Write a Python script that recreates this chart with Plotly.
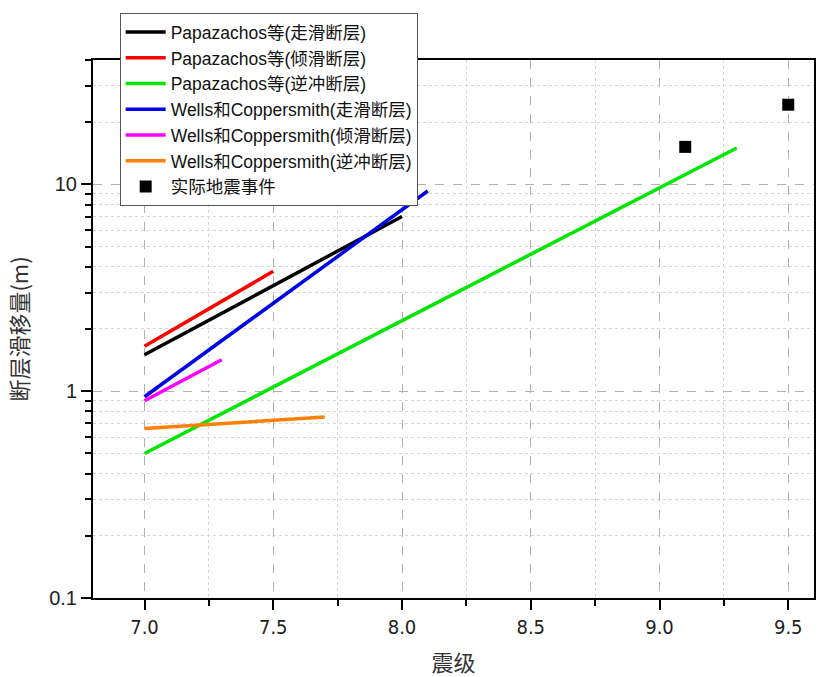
import plotly.graph_objects as go

# data
names = [
    "Papazachos等(走滑断层)",
    "Papazachos等(倾滑断层)",
    "Papazachos等(逆冲断层)",
    "Wells和Coppersmith(走滑断层)",
    "Wells和Coppersmith(倾滑断层)",
    "Wells和Coppersmith(逆冲断层)",
]
colors = ["#000000", "#ff0000", "#00e600", "#0000e6", "#ff00ff", "#ff8000"]
mag_start = [7.0, 7.0, 7.0, 7.0, 7.0, 7.0]
mag_end = [8.0, 7.5, 9.3, 8.1, 7.3, 7.7]
slip_start = [1.5, 1.65, 0.5, 0.94, 0.9, 0.66]
slip_end = [7.0, 3.8, 15.0, 9.3, 1.42, 0.75]

event_mag = [9.1, 9.5]
event_slip = [15.2, 24.3]
event_name = "实际地震事件"

x_ticks = [7.0, 7.5, 8.0, 8.5, 9.0, 9.5]
x_labels = ["7.0", "7.5", "8.0", "8.5", "9.0", "9.5"]
y_ticks = [0.1, 1, 10]
y_labels = ["0.1", "1", "10"]

fig = go.Figure()
for i in range(len(names)):
    fig.add_trace(go.Scatter(
        x=[mag_start[i], mag_end[i]], y=[slip_start[i], slip_end[i]],
        mode="lines", name=names[i],
        line=dict(color=colors[i], width=3.5),
    ))
fig.add_trace(go.Scatter(
    x=event_mag, y=event_slip, mode="markers", name=event_name,
    marker=dict(symbol="square", color="black", size=12),
))

minor_y = [m * d for d in (0.1, 1, 10) for m in range(2, 10) if m * d <= 40]

tickfont = dict(family="DejaVu Sans Condensed, Liberation Sans Narrow, Liberation Sans, sans-serif", size=20, color="#222")
fig.update_layout(
    width=818, height=677,
    margin=dict(l=93, r=2, t=60, b=79),
    plot_bgcolor="white", paper_bgcolor="white",
    showlegend=True,
    legend=dict(
        x=0.037, y=1.087, xanchor="left", yanchor="top",
        bordercolor="#555", borderwidth=1, bgcolor="white",
        font=dict(family="Liberation Sans, Noto Sans CJK SC, sans-serif", size=17.5, color="#111"),
        tracegroupgap=0, itemwidth=40,
    ),
    xaxis=dict(
        range=[6.8, 9.6], tickvals=x_ticks, ticktext=x_labels,
        ticks="outside", ticklen=10, tickwidth=1.5, tickcolor="black",
        showline=True, linecolor="black", linewidth=2, mirror=True,
        showgrid=True, gridcolor="#b0b0b0", griddash="dash", gridwidth=1,
        minor=dict(tickvals=[7.25, 7.75, 8.25, 8.75, 9.25], ticks="outside", ticklen=6,
                   tickcolor="black", showgrid=True, gridcolor="#d5d5d5", griddash="dot"),
        tickfont=tickfont, zeroline=False,
        title=dict(text="震级", font=dict(family="Noto Sans CJK SC", size=22, color="#333"), standoff=18),
    ),
    yaxis=dict(
        type="log", range=[-1, 1.602], tickvals=y_ticks, ticktext=y_labels,
        ticks="outside", ticklen=10, tickwidth=1.5, tickcolor="black",
        showline=True, linecolor="black", linewidth=2, mirror=True,
        showgrid=True, gridcolor="#b0b0b0", griddash="dash", gridwidth=1,
        minor=dict(tickvals=minor_y, ticks="outside", ticklen=6,
                   tickcolor="black", showgrid=True, gridcolor="#d5d5d5", griddash="dot"),
        tickfont=dict(family="Liberation Sans, Arial, sans-serif", size=20, color="#222"),
        zeroline=False,
        title=dict(text="断层滑移量(m)", font=dict(family="Noto Sans CJK SC", size=22, color="#333"), standoff=14),
    ),
)

fig.write_html("out.html")
